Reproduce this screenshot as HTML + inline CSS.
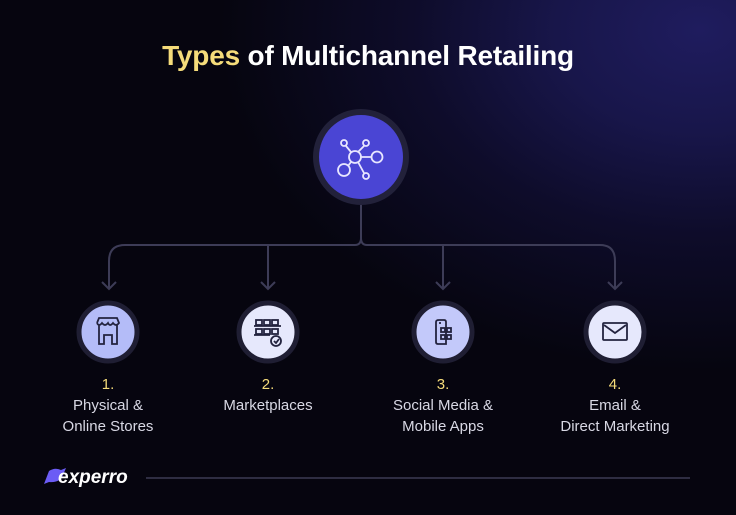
<!DOCTYPE html>
<html><head><meta charset="utf-8"><style>
html,body{margin:0;padding:0}
body{width:736px;height:515px;overflow:hidden;position:relative;font-family:"Liberation Sans",sans-serif;
background:radial-gradient(ellipse 480px 340px at 700px 30px,#1f1c5e 0%,#18164a 30%,#0e0c2a 60%,rgba(6,5,15,0) 100%),#06050f;}
.t{position:absolute;left:0;width:736px;top:40px;text-align:center;font-size:28px;font-weight:bold;color:#fff;letter-spacing:-0.2px}
.t span{color:#f5dc7a}
.lab{position:absolute;width:180px;text-align:center;color:#d8d8e4;font-size:15px;line-height:21px}
.lab b{display:block;color:#f5dc7a;font-weight:normal}
.logo{position:absolute;left:58px;top:467px;color:#fff;font-weight:bold;font-style:italic;font-size:19px}
</style></head><body>
<div class="t"><span>Types</span> of Multichannel Retailing</div>
<svg width="736" height="515" style="position:absolute;left:0;top:0">
<g stroke="#3d3c57" stroke-width="2" fill="none">
<path d="M361 203 V238 Q361 245 355 245 H125 Q109 245 109 261 V289"/>
<path d="M361 238 Q361 245 367 245 H600 Q615 245 615 261 V289"/>
<path d="M268 245 V289 M443 245 V289"/>
<path d="M102 282 L109 289 L116 282 M261 282 L268 289 L275 282 M436 282 L443 289 L450 282 M608 282 L615 289 L622 282"/>
<path d="M146 478 H690" stroke="#2e2d42"/>
</g>
<circle cx="361" cy="157" r="45" fill="#4a45d4" stroke="#22213a" stroke-width="6"/>
<g stroke="#e8e6ff" stroke-width="1.8" fill="none">
<circle cx="355" cy="157" r="6"/><circle cx="377" cy="157" r="5.5"/><circle cx="344" cy="170" r="6"/>
<circle cx="344" cy="143" r="3"/><circle cx="366" cy="143" r="3"/><circle cx="366" cy="176" r="3"/>
<path d="M361 157H371 M351 162L348 166 M351 152L346 146 M358 152L364 146 M358 162L364 173"/>
</g>
<g stroke="#1f1e33" stroke-width="5">
<circle cx="108" cy="332" r="29" fill="#b4bcf8"/>
<circle cx="268" cy="332" r="29" fill="#e6e8fc"/>
<circle cx="443" cy="332" r="29" fill="#c3c9fa"/>
<circle cx="615" cy="332" r="29" fill="#e6e8fc"/>
</g>
<g stroke="#23233f" stroke-width="1.8" fill="none">
<path d="M97 323 L99 318 H117 L119 323 Q116 327 113 323 Q110 327 108 323 Q105 327 102 323 Q99 327 97 323 M99 325 V344 H104 V335 H112 V344 H117 V325"/>
<rect x="256" y="320" width="6" height="5"/><rect x="264" y="320" width="6" height="5"/><rect x="272" y="320" width="6" height="5"/>
<rect x="256" y="329" width="6" height="5"/><rect x="264" y="329" width="6" height="5"/><rect x="272" y="329" width="6" height="5"/>
<path d="M254 326H281 M254 335H270"/><circle cx="276" cy="341" r="5"/><path d="M274 341L276 343 L279 339"/>
<path d="M439 320 H444 Q446 320 446 322 V344 H438 Q436 344 436 342 V322 Q436 320 439 320 M439 323H441"/>
<rect x="441" y="328" width="4" height="4"/><rect x="447" y="328" width="4" height="4"/><rect x="441" y="335" width="4" height="4"/><rect x="447" y="335" width="4" height="4"/>
<rect x="603" y="323" width="24" height="17" rx="1"/><path d="M604 325 L615 333 L626 325"/>
</g>
<path d="M44 484 L49 471 Q55 467 61 470 L66 468 L63 475 Q60 483 49 482 Z" fill="#6b5cf5"/>
</svg>
<div class="lab" style="left:18px;top:374px"><b>1.</b>Physical &amp;<br>Online Stores</div>
<div class="lab" style="left:178px;top:374px"><b>2.</b>Marketplaces</div>
<div class="lab" style="left:353px;top:374px"><b>3.</b>Social Media &amp;<br>Mobile Apps</div>
<div class="lab" style="left:525px;top:374px"><b>4.</b>Email &amp;<br>Direct Marketing</div>
<div class="logo">experro</div>
</body></html>
